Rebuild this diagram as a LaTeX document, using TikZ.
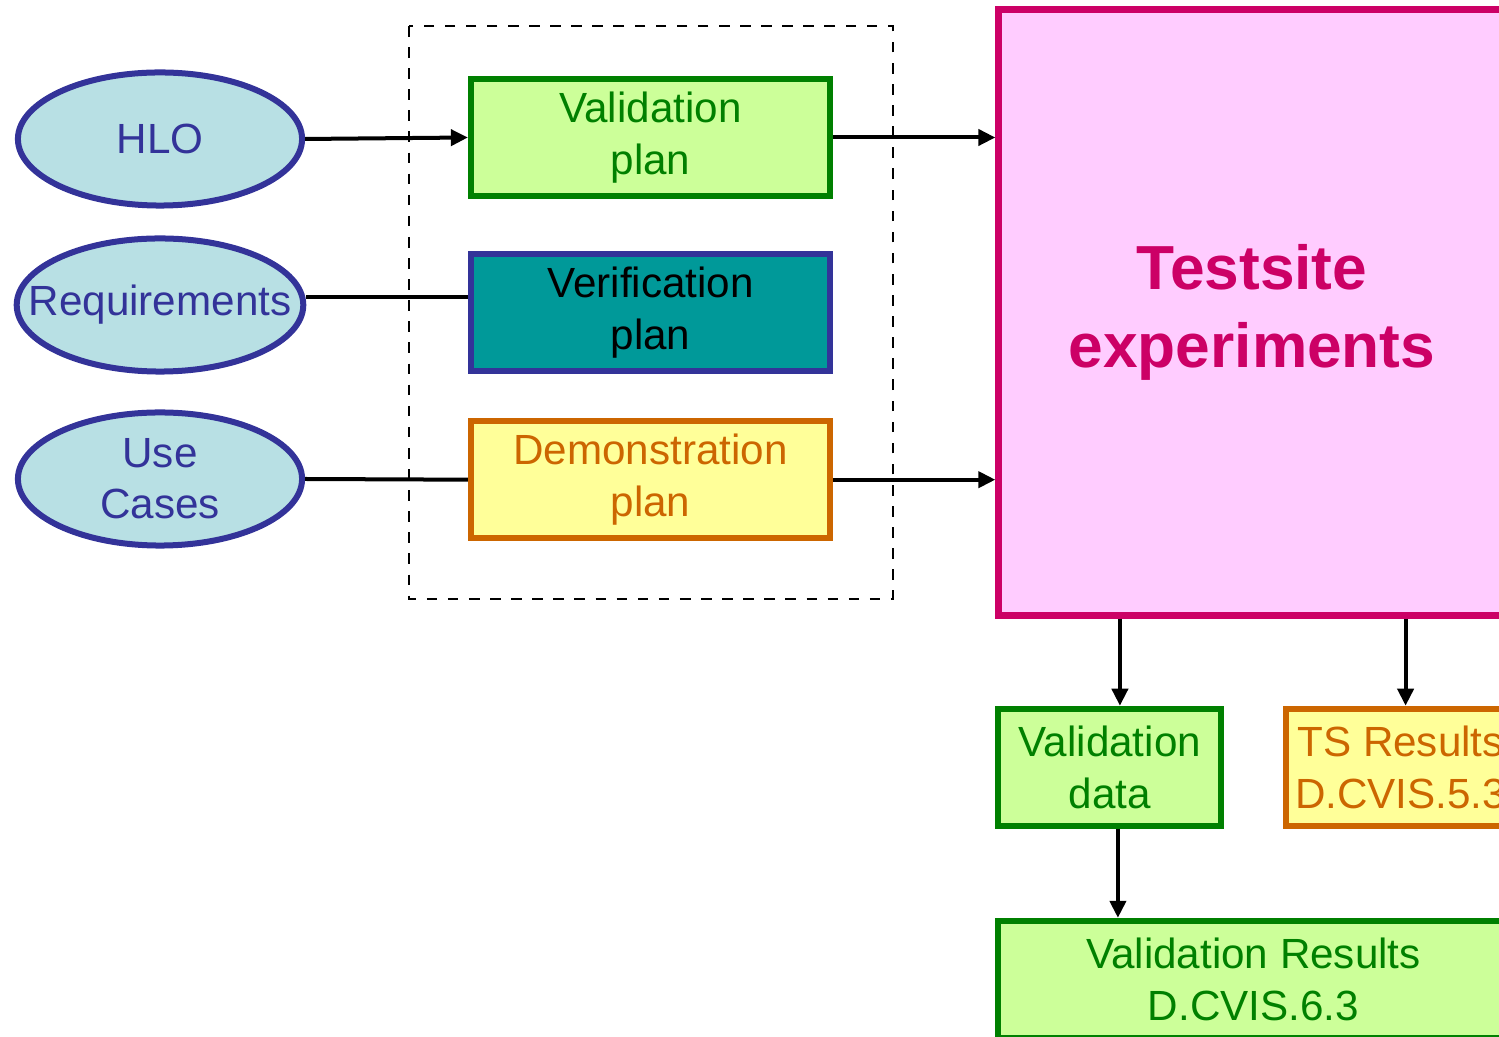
\documentclass[tikz,border=0pt]{standalone}
\usepackage{fontspec}
\setmainfont{Liberation Sans}
\usetikzlibrary{arrows.meta, positioning, shapes.geometric}

\definecolor{ovalblue}{HTML}{333399}
\definecolor{ovalfill}{HTML}{B8E0E4}
\definecolor{valgreen}{HTML}{008000}
\definecolor{vallight}{HTML}{CCFF99}
\definecolor{verteal}{HTML}{009999}
\definecolor{demorange}{HTML}{CC6600}
\definecolor{demyellow}{HTML}{FFFF99}
\definecolor{tsmagenta}{HTML}{CC0066}
\definecolor{tspink}{HTML}{FFCCFF}

\begin{document}
\begin{tikzpicture}[x=0.01cm, y=-0.01cm]
			\tikzset {>={Triangle[length=0.17cm, width=0.16cm]}, node distance=0.5cm,
				goal/.style={ellipse, draw=ovalblue, fill=ovalfill, line width=0.06cm, minimum width=2.84cm, minimum height=1.33cm, inner sep=0pt, text=ovalblue, align=center, font=\fontsize{12}{14.6}\selectfont},
				plan/.style={rectangle, line width=0.06cm, minimum width=3.59cm, minimum height=1.17cm, inner sep=0pt, align=center, font=\fontsize{12}{14.6}\selectfont},
				flow/.style={->, line width=0.04cm},
				link/.style={line width=0.04cm}
			}
			\useasboundingbox (0,0) rectangle (1499,1037);
			
			\node[goal] (hlo) at (160,139) {HLO};
			\node[goal, inner xsep=-0.3cm] (req) at (160,305) {Requirements};
			\node[goal] (use) at (160,479) {Use\\Cases};
			
			\draw[dashed, line width=0.02cm] (409,26) rectangle (893,599);
			
			\node[plan, draw=valgreen, fill=vallight, text=valgreen] (valplan) at (650.5,137.5) {Validation\\plan};
			\node[plan, draw=ovalblue, fill=verteal, text=black, below=0.52cm of valplan] (verplan) {Verification\\plan};
			\node[plan, draw=demorange, fill=demyellow, text=demorange, below=0.44cm of verplan] (demplan) {Demonstration\\plan};
			
			\node[plan, draw=tsmagenta, fill=tspink, text=tsmagenta, line width=0.07cm, minimum width=5.06cm, minimum height=6.05cm, font=\fontsize{17.7}{22}\selectfont\bfseries] (ts) at (1252,312.5) {Testsite\\experiments};
			
			\node[plan, draw=valgreen, fill=vallight, text=valgreen, minimum width=2.23cm, below right=0.87cm and 0cm of ts.south west] (valdata) {Validation\\data};
			\node[plan, draw=demorange, fill=demyellow, text=demorange, minimum width=2.30cm, right=0.58cm of valdata] (tsres) {TS Results\\D.CVIS.5.3};
			\node[plan, draw=valgreen, fill=vallight, text=valgreen, minimum width=5.10cm, below right=0.89cm and 0cm of valdata.south west] (valres) {Validation Results\\D.CVIS.6.3};
			
			\draw[flow] (hlo.east) -- (valplan.west);
			\draw[link] ([yshift=0.08cm]req.east) -- ([yshift=0.08cm]req.east -| verplan.west);
			\draw[link] (use.east) -- (demplan.west);
			\draw[flow] (valplan.east) -- (valplan.east -| ts.west);
			\draw[flow] (demplan.east) -- (demplan.east -| ts.west);
			\draw[flow] ([xshift=0.1cm]valdata.north |- ts.south) -- ([xshift=0.1cm]valdata.north);
			\draw[flow] ([xshift=0.05cm]tsres.north |- ts.south) -- ([xshift=0.05cm]tsres.north);
			\draw[flow] ([xshift=0.08cm]valdata.south) -- ([xshift=0.08cm]valdata.south |- valres.north);
		\end{tikzpicture}
\end{document}
